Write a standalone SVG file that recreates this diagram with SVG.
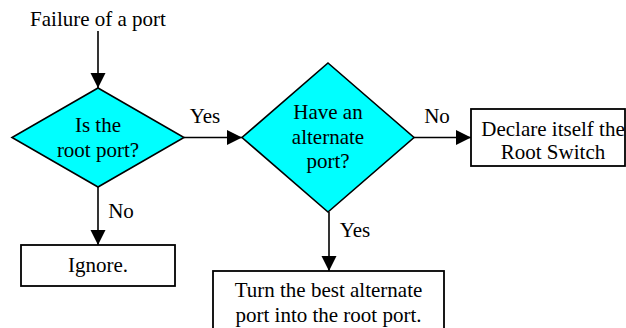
<svg xmlns="http://www.w3.org/2000/svg" width="626" height="328" viewBox="0 0 626 328">
<style>
text{font-family:"Liberation Serif","Times New Roman",serif;font-size:21px;fill:#000;text-anchor:middle}
.d{fill:#00ffff;stroke:#000;stroke-width:1.6}
.b{fill:#fff;stroke:#000;stroke-width:1.8}
.c{stroke:#000;stroke-width:1.6;fill:none;marker-end:url(#ah)}
</style>
<defs>
<marker id="ah" markerUnits="userSpaceOnUse" markerWidth="16" markerHeight="16" refX="15" refY="7.5" orient="auto">
<path d="M0,0 L15,7.5 L0,15 Z" fill="#000"/>
</marker>
</defs>
<rect width="626" height="328" fill="#fff"/>
<g id="start"><text x="98" y="26">Failure of a port</text></g>
<g id="d1"><polygon class="d" points="98,88 184,137.5 98,187 12,137.5"/><text x="98" y="132">Is the</text><text x="98" y="157">root port?</text></g>
<g id="d2"><polygon class="d" points="328,63 414,137.5 328,212 242,137.5"/><text x="328" y="119">Have an</text><text x="328" y="144">alternate</text><text x="328" y="168">port?</text></g>
<g id="root"><rect class="b" x="471" y="109" width="154" height="57"/><text x="553" y="136">Declare itself the</text><text x="553" y="159">Root Switch</text></g>
<g id="ignore"><rect class="b" x="21" y="245" width="154" height="41"/><text x="98" y="272">Ignore.</text></g>
<g id="turn"><rect class="b" x="213" y="271" width="231" height="62"/><text x="328.5" y="297">Turn the best alternate</text><text x="328.5" y="322">port into the root port.</text></g>
<g id="connectors">
<line class="c" x1="98" y1="31" x2="98" y2="88"/>
<line class="c" x1="184" y1="137.5" x2="242" y2="137.5"/>
<line class="c" x1="414" y1="137.5" x2="471" y2="137.5"/>
<line class="c" x1="98" y1="187" x2="98" y2="245"/>
<line class="c" x1="329" y1="212" x2="329" y2="271"/>
<text x="205" y="123">Yes</text>
<text x="437" y="123">No</text>
<text x="121" y="218">No</text>
<text x="355" y="237">Yes</text>
</g>
</svg>
